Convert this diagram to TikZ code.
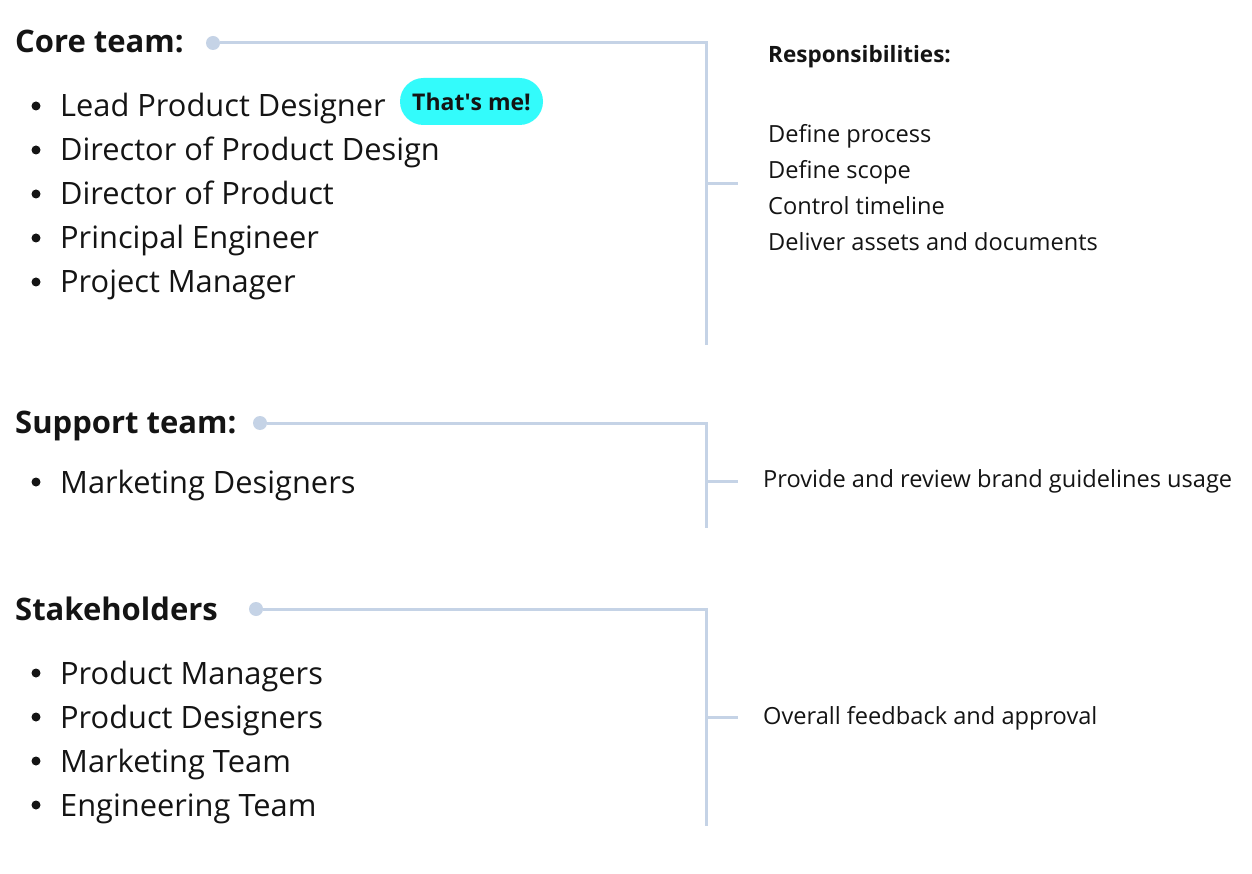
\documentclass[tikz,border=0pt]{standalone}
\usepackage{fontspec}
\setmainfont{Open Sans}
\definecolor{linec}{HTML}{C5D3E6}
\definecolor{badgec}{HTML}{33FBFB}
\definecolor{ink}{HTML}{141414}
\begin{document}
\begin{tikzpicture}[x=1pt,y=-1pt,
  head/.style={anchor=base west,inner sep=0pt,font=\fontsize{31}{34}\selectfont\bfseries,text=ink},
  item/.style={anchor=base west,inner sep=0pt,font=\fontsize{30.8}{34}\selectfont,text=ink},
  resp/.style={anchor=base west,inner sep=0pt,font=\fontsize{23.6}{26}\selectfont,text=ink},
  resphead/.style={anchor=base west,inner sep=0pt,font=\fontsize{22.5}{26}\selectfont\bfseries,text=ink},
  conn/.style={draw=linec,line width=3pt},
  knob/.style={circle,fill=linec,inner sep=0pt,minimum size=14pt},
  bul/.style={circle,fill=ink,inner sep=0pt,minimum size=9pt},
  badge/.style={rounded corners=23.5pt,fill=badgec,minimum width=143pt,minimum height=47pt,inner sep=0pt,font=\fontsize{23}{26}\selectfont\bfseries,text=ink}]
\useasboundingbox[fill=white] (0,0) rectangle (1252,874);

% ---- Core team
\node[head] (core) at (15,53) {Core team:};
\node[knob] (k1) at (213,43) {};
\coordinate (c1a) at (706,43);
\coordinate (c1b) at (706,345);
\coordinate (c1m) at (706,184);
\coordinate (c1t) at (738,184);
\draw[conn] (k1) -- (c1a) -- (c1b);
\draw[conn] (c1m) -- (c1t);
\foreach \y/\t [count=\i] in {117/Lead Product Designer,161/Director of Product Design,205/Director of Product,249/Principal Engineer,293/Project Manager}{
  \node[bul] (cb\i) at (36,\y-11) {};
  \node[item] (ci\i) at (60,\y) {\t};
}
\node[badge] (me) at (471.5,101.5) {That\textquotesingle s me!};
\node[resphead] (rh) at (768,63) {Responsibilities:};
\node[resp] (r1) at (768,143) {Define process};
\node[resp] (r2) at (768,179) {Define scope};
\node[resp] (r3) at (768,215) {Control timeline};
\node[resp] (r4) at (768,251) {Deliver assets and documents};

% ---- Support team
\node[head] (sup) at (15,433) {Support team:};
\node[knob] (k2) at (260,423) {};
\coordinate (c2a) at (706,423);
\coordinate (c2b) at (706,528);
\coordinate (c2m) at (706,481);
\coordinate (c2t) at (738,481);
\draw[conn] (k2) -- (c2a) -- (c2b);
\draw[conn] (c2m) -- (c2t);
\node[bul] (sb1) at (36,482) {};
\node[item] (si1) at (60,493) {Marketing Designers};
\node[resp] (sr) at (763,487) {Provide and review brand guidelines usage};

% ---- Stakeholders
\node[head] (stk) at (15,620) {Stakeholders};
\node[knob] (k3) at (256,609) {};
\coordinate (c3a) at (706,609);
\coordinate (c3b) at (706,826);
\coordinate (c3m) at (706,717);
\coordinate (c3t) at (738,717);
\draw[conn] (k3) -- (c3a) -- (c3b);
\draw[conn] (c3m) -- (c3t);
\foreach \y/\t [count=\i] in {684/Product Managers,728/Product Designers,772/Marketing Team,816/Engineering Team}{
  \node[bul] (tb\i) at (36,\y-11) {};
  \node[item] (ti\i) at (60,\y) {\t};
}
\node[resp] (tr) at (763,724) {Overall feedback and approval};
\end{tikzpicture}
\end{document}
